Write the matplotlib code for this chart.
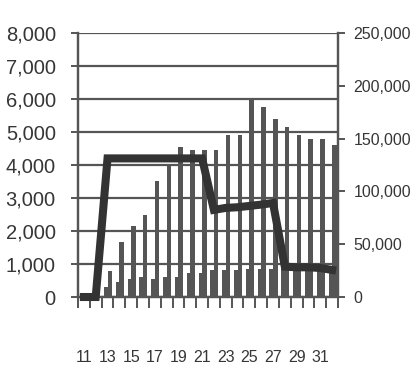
import matplotlib.pyplot as plt
import numpy as np

days = list(range(11, 33))
# left axis
daily = [0, 0, 290, 465, 545, 600, 545, 615, 615, 720, 720,
         820, 820, 830, 850, 850, 850, 850, 850, 850, 850, 850]
level = [0, 0, 4200, 4200, 4200, 4200, 4200, 4200, 4200, 4200, 4200,
         2640, 2700, 2720, 2760, 2800, 2850, 920, 900, 900, 880, 820]
# right axis
total = [0, 0, 25000, 52300, 67500, 77700, 110000, 126000, 142000, 139000, 139000,
         139000, 153000, 153000, 186500, 180000, 169000, 161000, 153000, 150000,
         150000, 143700]

plt.rcParams['font.family'] = ['Liberation Sans', 'DejaVu Sans']
txt = '#363636'
dark = '#555555'

fig = plt.figure(figsize=(4.17, 3.72), dpi=100)
ax = fig.add_axes([0.187, 0.2016, 0.6236, 0.7097])
ax2 = ax.twinx()
ax.set_zorder(2)
ax.patch.set_visible(False)

x = np.arange(len(days))
ax2.bar(x, total, width=0.38, align='edge', color=dark, zorder=1)
ax.bar(x - 0.3, daily, width=0.3, align='edge', color=dark, zorder=2)
ax.plot(x, level, color='#333333', lw=5.8, solid_joinstyle='miter', zorder=3, clip_on=False)

ax.set_xlim(-0.5, len(days) - 0.5)
ax.set_ylim(0, 8000)
ax2.set_ylim(0, 250000)

ax.set_yticks(range(0, 8001, 1000))
ax.set_yticklabels([f'{v:,}' for v in range(0, 8001, 1000)], fontsize=14.5, color=txt)
ax2.set_yticks(range(0, 250001, 50000))
ax2.set_yticklabels([f'{v:,}' for v in range(0, 250001, 50000)], fontsize=11.5, color=txt)
ax.yaxis.grid(True, color=dark, lw=1.6)
ax.set_axisbelow(True)

ax.set_xticks(x[::2])
ax.set_xticklabels([str(d) for d in days[::2]], fontsize=11.5, color=txt)
ax.set_xticks(np.arange(-0.5, len(days)), minor=True)
ax.tick_params(axis='x', which='major', length=0, pad=38)
ax.tick_params(axis='x', which='minor', length=8, width=1.4, color=dark)
ax.tick_params(axis='y', length=5, width=1.4, color=dark, pad=11)
ax2.tick_params(axis='y', length=5, width=1.4, color=dark, pad=6)

for a in (ax, ax2):
    for s in a.spines.values():
        s.set_color(dark)
        s.set_linewidth(1.6)
    a.spines['top'].set_visible(False)

fig.savefig('out.png', dpi=100)
